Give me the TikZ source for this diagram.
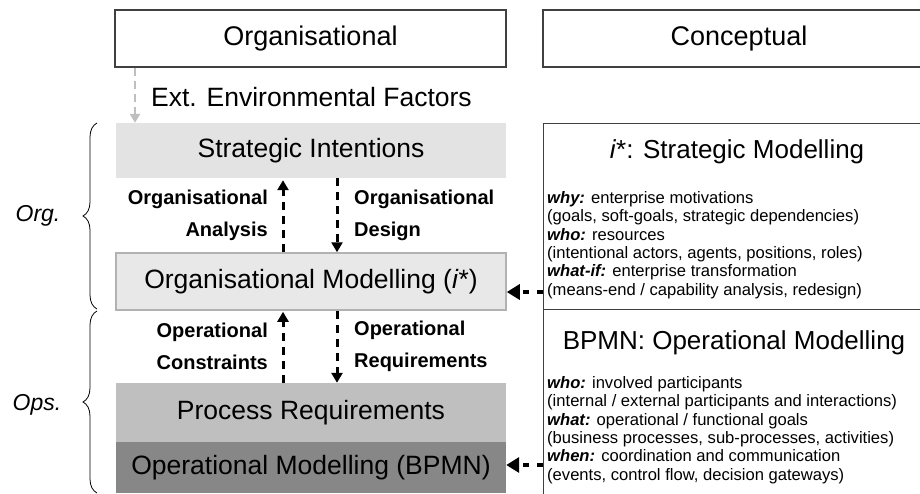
\documentclass[tikz,border=0pt]{standalone}
\usepackage{fontspec}
\setmainfont{Liberation Sans}
\usetikzlibrary{arrows.meta,decorations.pathreplacing}

\begin{document}
\begin{tikzpicture}[x=1pt,y=-1pt,
    hdr/.style={draw=black!75, line width=1.3pt, minimum height=57pt, inner sep=0pt, font=\fontsize{27}{30}\selectfont},
    layer/.style={minimum width=390pt, inner sep=0pt, font=\fontsize{26.5}{30}\selectfont},
    lbl/.style={inner sep=0pt, font=\bfseries\fontsize{20}{32}\selectfont},
    flow/.style={black, line width=3pt, dash pattern=on 8pt off 6pt, -{Triangle[length=10pt,width=11pt]}},
    feed/.style={black, line width=4pt, dash pattern=on 6pt off 8pt, -{Triangle[length=13pt,width=15pt]}},
    ext/.style={black!25, line width=2.5pt, dash pattern=on 8pt off 5pt, -{Triangle[length=9pt,width=10pt]}},
    concept/.style={draw=black!75, line width=1.3pt, anchor=north west, inner sep=0pt, minimum width=392pt},
    ttl/.style={inner sep=0pt, font=\fontsize{26}{30}\selectfont},
    notes/.style={inner sep=0pt, anchor=north west, align=left, font=\fontsize{16.6}{18.4}\selectfont},
    side/.style={inner sep=0pt, font=\itshape\fontsize{23}{28}\selectfont},
    bracket/.style={decorate, decoration={brace, amplitude=14pt}, line width=0.8pt}]
    \useasboundingbox (0,0) rectangle (920,493);
    \clip (0,0) rectangle (920,493);

    % Column headers
    \node[hdr, minimum width=391pt] (orghd) at (310.5,38.5) {Organisational};
    \node[hdr, minimum width=392pt] (conhd) at (739,38.5) {Conceptual};

    % External factors
    \node[anchor=west, inner sep=0pt, font=\fontsize{26.5}{30}\selectfont] (extf) at (151,97) {Ext. Environmental Factors};

    % Organisational layers
    \node[layer, fill=black!11, minimum height=55pt] (strat) at (311,150.5) {Strategic Intentions};
    \node[layer, fill=black!9, draw=black!30, line width=1.5pt, minimum height=57pt] (orgmod) at (311,281.5) {Organisational Modelling (\textit{i}*)};
    \node[layer, fill=black!25, minimum height=59pt] (procreq) at (311,412.5) {Process Requirements};
    \node[layer, fill=black!47, minimum height=51pt] (opmod) at (311,467.5) {Operational Modelling (BPMN)};

    % Conceptual boxes
    \node[concept, minimum height=186pt] (istar) at (543,123) {};
    \node[concept, minimum height=200pt] (bpmn) at (543,309) {};
    \node[ttl] (istart) at (737,152) {\textit{i}*: Strategic Modelling};
    \node[ttl] (bpmnt) at (734,343) {BPMN: Operational Modelling};
    \node[notes] (istarn) at (547,191) {\textbf{\textit{why:}} enterprise motivations\\
        (goals, soft-goals, strategic dependencies)\\
        \textbf{\textit{who:}} resources\\
        (intentional actors, agents, positions, roles)\\
        \textbf{\textit{what-if:}} enterprise transformation\\
        (means-end / capability analysis, redesign)};
    \node[notes] (bpmnn) at (547,376) {\textbf{\textit{who:}} involved participants\\
        (internal / external participants and interactions)\\
        \textbf{\textit{what:}} operational / functional goals\\
        (business processes, sub-processes, activities)\\
        \textbf{\textit{when:}} coordination and communication\\
        (events, control flow, decision gateways)};

    % Arrow labels
    \node[lbl, anchor=east, align=right] (oa) at (268,215) {Organisational\\Analysis};
    \node[lbl, anchor=west, align=left] (od) at (354,215) {Organisational\\Design};
    \node[lbl, anchor=east, align=right] (oc) at (268,346) {Operational\\Constraints};
    \node[lbl, anchor=west, align=left] (orq) at (354,346) {Operational\\Requirements};

    % Braces
    \draw[bracket] (97,309) -- (97,123);
    \draw[bracket] (97,493) -- (97,311);
    \node[side] (orgs) at (38,216) {Org.};
    \node[side] (opss) at (37,405) {Ops.};

    % Arrows
    \coordinate (extx) at (135,0);
    \coordinate (upx) at (283,0);
    \coordinate (dnx) at (337,0);
    \coordinate (fb1) at (0,292);
    \coordinate (fb2) at (0,465);
    \draw[ext] (orghd.south -| extx) -- (strat.north -| extx);
    \draw[flow, shorten >=2pt] (orgmod.north -| upx) -- (strat.south -| upx);
    \draw[flow] (strat.south -| dnx) -- (orgmod.north -| dnx);
    \draw[flow, shorten >=1pt] (procreq.north -| upx) -- (orgmod.south -| upx);
    \draw[flow] (orgmod.south -| dnx) -- (procreq.north -| dnx);
    \draw[feed] (istar.west |- fb1) -- (orgmod.east |- fb1);
    \draw[feed] (bpmn.west |- fb2) -- (opmod.east |- fb2);
\end{tikzpicture}
\end{document}
